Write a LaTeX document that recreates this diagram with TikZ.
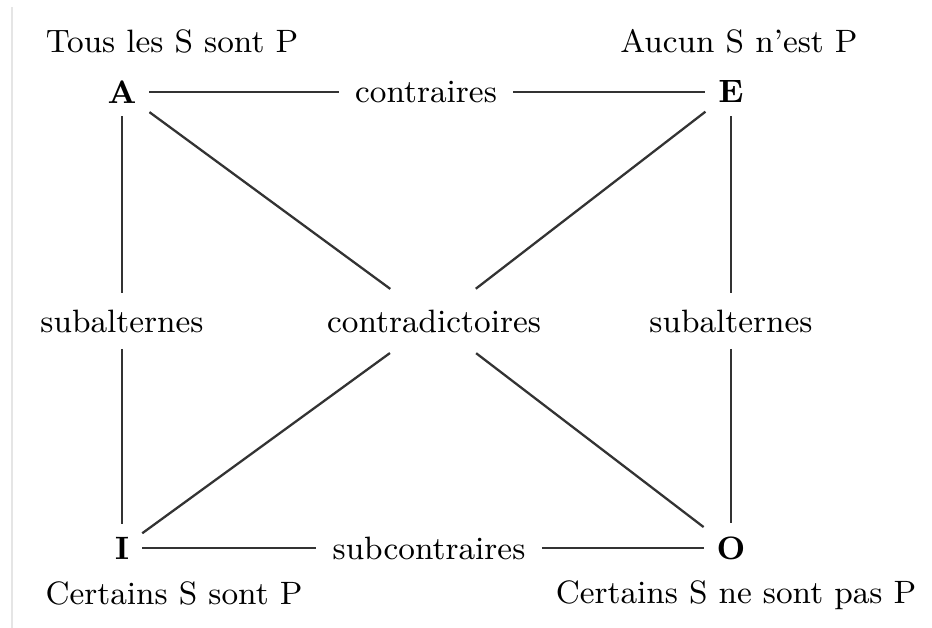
\documentclass[tikz,border=0pt]{standalone}
\begin{document}
\begin{tikzpicture}[x=0.01cm, y=-0.01cm, font=\fontsize{9.2}{11}\selectfont,
  letter/.style={inner sep=3.5pt, font=\fontsize{9.2}{11}\selectfont\bfseries},
  relation/.style={inner sep=4.5pt},
  edge/.style={line width=0.65pt, draw=black!80},
  cross/.style={edge, shorten >=2pt}]
\useasboundingbox (0,0) rectangle (932,628);
\draw[black!10, line width=0.8pt] (12,7) -- (12,628);
% the four corners
\node[letter] (A) at (122,92) {A};
\node[letter] (E) at (731,92) {E};
\node[letter] (I) at (122,548) {I};
\node[letter] (O) at (731,548) {O};
% what each corner says
\node[anchor=base] (tous) at (172,53) {Tous les S sont P};
\node[anchor=base] (aucun) at (739,53) {Aucun S n'est P};
\node[anchor=base] (certains) at (174,605) {Certains S sont P};
\node[anchor=base] (certainspas) at (736,604) {Certains S ne sont pas P};
% the relations
\node[relation] (contraires) at (426,92) {contraires};
\node[relation] (subcontraires) at (429,548) {subcontraires};
\node[relation] (subleft) at (122,321) {subalternes};
\node[relation] (subright) at (731,321) {subalternes};
\node[relation] (contradictoires) at (434,321) {contradictoires};
\draw[edge] (A) -- (contraires);
\draw[edge] (contraires) -- (E);
\draw[edge] (I) -- (subcontraires);
\draw[edge] (subcontraires) -- (O);
\draw[edge] (A) -- (subleft);
\draw[edge] (subleft) -- (I);
\draw[edge] (E) -- (subright);
\draw[edge] (subright) -- (O);
\draw[cross] (A) -- (contradictoires);
\draw[cross] (E) -- (contradictoires);
\draw[cross] (I) -- (contradictoires);
\draw[cross] (O) -- (contradictoires);
\end{tikzpicture}
\end{document}
